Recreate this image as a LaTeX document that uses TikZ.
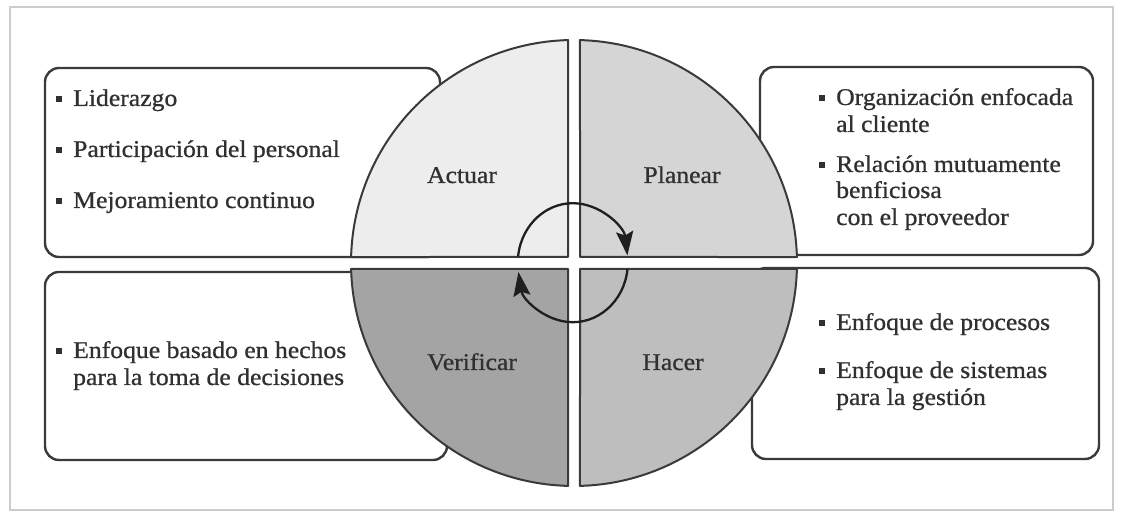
\documentclass[tikz,border=0pt]{standalone}
\usepackage{fontspec}
\setmainfont{Liberation Serif}[FakeStretch=1.07,FakeBold=0.8]
\usetikzlibrary{arrows.meta,calc}
\definecolor{ink}{HTML}{303030}
\definecolor{edge}{HTML}{3A3A3A}
\definecolor{qact}{HTML}{EDEDED}
\definecolor{qpla}{HTML}{D5D5D5}
\definecolor{qver}{HTML}{A4A4A4}
\definecolor{qhac}{HTML}{BEBEBE}
\newcommand\bul{\makebox[17pt][l]{\rule[3.8pt]{6pt}{6pt}}}
\begin{document}
\begin{tikzpicture}[x=1pt,y=1pt,
  infobox/.style={draw=edge, line width=2.4pt, fill=white, rounded corners=14pt,
    inner sep=0pt, outer sep=0pt},
  quad/.style={draw=edge, line width=2pt, line join=round},
  txt/.style={anchor=base west, inner sep=0pt, text=ink,
    font=\fontsize{24}{28}\selectfont},
  qlabel/.style={anchor=base, inner sep=0pt, text=ink,
    font=\fontsize{24}{28}\selectfont},
  cycle arrow/.style={draw=black!88, line width=2.3pt,
    -{Stealth[length=24pt,width=17pt,inset=4pt]}}]
\useasboundingbox (0,0) rectangle (1122,513);
\fill[white] (0,0) rectangle (1122,513);
% outer frame
\draw[black!20, line width=1.5pt] (10,3) rectangle (1113,506);

% four text boxes (behind the circle)
\node[infobox, minimum width=395pt, minimum height=189pt] (boxLT) at (242.5,350.5) {};
\node[infobox, minimum width=402pt, minimum height=188pt] (boxLB) at (246,147) {};
\node[infobox, minimum width=333pt, minimum height=188pt] (boxRT) at (926.5,352) {};
\node[infobox, minimum width=347pt, minimum height=191pt] (boxRB) at (925.5,149.5) {};

% the PDCA circle split into four sectors
\begin{scope}[shift={(574,250)}]
  \path[quad, fill=qact] (-6,6) -- (91.54:223) arc[start angle=91.54, end angle=178.46, radius=223] -- cycle;
  \path[quad, fill=qpla] (6,6) -- (88.46:223) arc[start angle=88.46, end angle=1.54, radius=223] -- cycle;
  \path[quad, fill=qver] (-6,-6) -- (181.54:223) arc[start angle=181.54, end angle=268.46, radius=223] -- cycle;
  \path[quad, fill=qhac] (6,-6) -- (271.54:223) arc[start angle=271.54, end angle=358.46, radius=223] -- cycle;
\end{scope}

% sector labels
\node[qlabel] (lAct) at (462,330) {Actuar};
\node[qlabel] (lPla) at (682,330) {Planear};
\node[qlabel] (lVer) at (472,143) {Verificar};
\node[qlabel] (lHac) at (673,143) {Hacer};

% cycle arrows in the middle
\coordinate (ac) at (572.8,250.3);
\draw[cycle arrow] ($(ac)+(174:55 and 59.5)$) arc[start angle=174, end angle=7, x radius=55, y radius=59.5];
\draw[cycle arrow] ($(ac)+(-6:55 and 59.5)$) arc[start angle=-6, end angle=-171, x radius=55, y radius=59.5];

% upper left box
\node[txt] (lt1) at (56,407) {\bul Liderazgo};
\node[txt] (lt2) at (56,356) {\bul Participación del personal};
\node[txt] (lt3) at (56,305) {\bul Mejoramiento continuo};

% upper right box
\node[txt] (rt1) at (819,408) {\bul Organización enfocada};
\node[txt] (rt2) at (836,381) {al cliente};
\node[txt] (rt3) at (819,341) {\bul Relación mutuamente};
\node[txt] (rt4) at (836,315) {benficiosa};
\node[txt] (rt5) at (836,288) {con el proveedor};

% lower left box
\node[txt] (lb1) at (56,155) {\bul Enfoque basado en hechos};
\node[txt] (lb2) at (73,128) {para la toma de decisiones};

% lower right box
\node[txt] (rb1) at (819,183) {\bul Enfoque de procesos};
\node[txt] (rb2) at (819,135) {\bul Enfoque de sistemas};
\node[txt] (rb3) at (836,108) {para la gestión};
\end{tikzpicture}
\end{document}
